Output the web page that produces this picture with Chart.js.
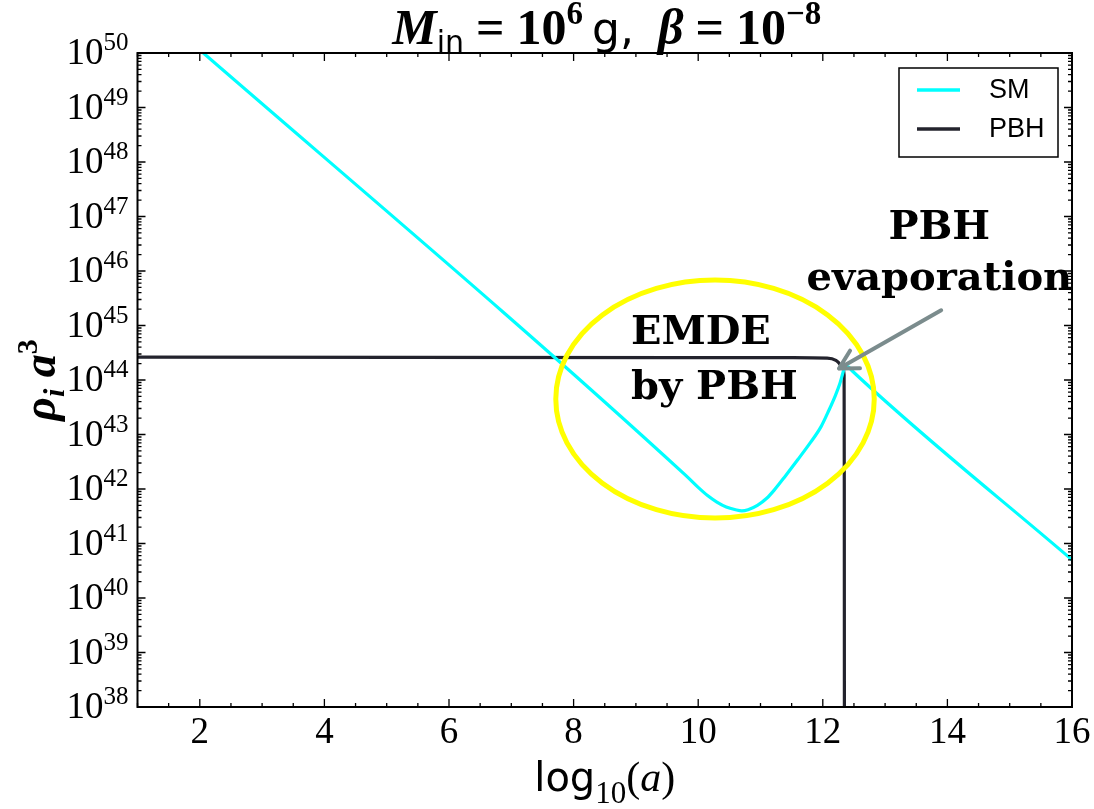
<!DOCTYPE html>
<html><head><meta charset="utf-8">
<script src="https://cdn.jsdelivr.net/npm/chart.js@4.4.1/dist/chart.umd.min.js"></script>
<style>html,body{margin:0;padding:0;background:#fff}canvas{display:block}</style>
</head><body>
<canvas id="c" width="1094" height="809"></canvas>
<script>
// ---- data (x = log10(a), y given as log10 of rho_i a^3) ----
const smX      = [1, 9.8, 10.0, 10.15, 10.3, 10.45, 10.6, 10.7, 10.8, 10.95, 11.1, 11.22, 11.4, 11.6, 11.8, 11.97, 12.1, 12.2, 12.27, 12.31, 12.34, 12.37, 12.41, 12.47, 16];
const smLogY   = [51.05, 42.25, 42.03, 41.88, 41.76, 41.67, 41.62, 41.60, 41.62, 41.70, 41.83, 41.98, 42.24, 42.54, 42.85, 43.14, 43.45, 43.71, 43.92, 44.08, 44.20, 44.25, 44.24, 44.17, 40.70];
const pbhX     = [1, 11.5, 12.07, 12.21, 12.26, 12.305, 12.342, 12.345, 12.348];
const pbhLogY  = [44.42, 44.41, 44.40, 44.36, 44.31, 44.25, 44.09, 42.0, 34];
const seriesLabels = ['SM', 'PBH'];
const xTickVals = [2, 4, 6, 8, 10, 12, 14, 16];
const yTickExps = [38, 39, 40, 41, 42, 43, 44, 45, 46, 47, 48, 49, 50];

// ---- annotation anchors (data coordinates) ----
const ellipseAnno = {cx: 10.27, cyExp: 43.65, rx: 2.556, ryDec: 2.183};
const arrowAnno = {tail: [13.90, 45.28], tip: [12.26, 44.21]};
const textAnno = [
  {lines: ['EMDE', 'by PBH'], x: 8.92, yExp: [44.66, 43.65], align: 'left'},
  {lines: ['PBH', 'evaporation'], x: 13.87, yExp: [46.58, 45.65], align: 'center'}
];

const SERIF = '"Liberation Serif", "DejaVu Serif", serif';
const SANS = '"DejaVu Sans", sans-serif';

function runsWidth(ctx, runs) { let w = 0; for (const r of runs) { ctx.font = r.font; w += ctx.measureText(r.t).width + (r.gap || 0); } return w; }
function drawRuns(ctx, runs, x, y, align) {
  const w = runsWidth(ctx, runs);
  let cx = align === 'center' ? x - w / 2 : (align === 'right' ? x - w : x);
  ctx.textAlign = 'left'; ctx.textBaseline = 'alphabetic';
  for (const r of runs) { ctx.font = r.font; ctx.fillText(r.t, cx, y + (r.dy || 0)); cx += ctx.measureText(r.t).width + (r.gap || 0); }
}

const deco = {
  id: 'deco',
  beforeDraw(chart) {
    const ctx = chart.ctx;
    ctx.save(); ctx.fillStyle = '#fff'; ctx.fillRect(0, 0, chart.width, chart.height); ctx.restore();
  },
  afterDatasetsDraw(chart) {
    const ctx = chart.ctx, a = chart.chartArea, xs = chart.scales.x, ys = chart.scales.y;
    ctx.save();
    ctx.fillStyle = '#000'; ctx.strokeStyle = '#000';
    // frame
    ctx.lineWidth = 2;
    ctx.strokeRect(a.left, a.top, a.right - a.left, a.bottom - a.top);
    // ticks
    ctx.lineWidth = 1.3;
    ctx.beginPath();
    for (let v = 1; v <= 16.001; v += 0.5) {
      const px = xs.getPixelForValue(v);
      const len = (Math.abs(v % 2) < 1e-6) ? 8 : 4;
      ctx.moveTo(px, a.bottom); ctx.lineTo(px, a.bottom - len);
      ctx.moveTo(px, a.top); ctx.lineTo(px, a.top + len);
    }
    for (let e = 38; e <= 50; e++) {
      for (let k = 1; k <= 9; k++) {
        if (e === 50 && k > 1) break;
        const py = ys.getPixelForValue(k * Math.pow(10, e));
        const len = k === 1 ? 8 : 4;
        ctx.moveTo(a.left, py); ctx.lineTo(a.left + len, py);
        ctx.moveTo(a.right, py); ctx.lineTo(a.right - len, py);
      }
    }
    ctx.stroke();
    // tick labels
    for (const v of xTickVals) {
      drawRuns(ctx, [{t: String(v), font: '37px ' + SERIF}], xs.getPixelForValue(v), a.bottom + 36, 'center');
    }
    for (const e of yTickExps) {
      const py = ys.getPixelForValue(Math.pow(10, e));
      drawRuns(ctx, [{t: '10', font: '37px ' + SERIF}, {t: String(e), font: '25px ' + SERIF, dy: -14}], a.left - 9, py + 11, 'right');
    }
    const midX = (a.left + a.right) / 2, midY = (a.top + a.bottom) / 2;
    // x label
    drawRuns(ctx, [
      {t: 'log', font: '40px ' + SANS},
      {t: '10', font: '31px ' + SERIF, dy: 12},
      {t: '(', font: '42px ' + SERIF},
      {t: 'a', font: 'italic 42px ' + SERIF},
      {t: ')', font: '42px ' + SERIF}
    ], midX, a.bottom + 84, 'center');
    // y label
    ctx.save();
    ctx.translate(55, midY); ctx.rotate(-Math.PI / 2);
    drawRuns(ctx, [
      {t: 'ρ', font: 'italic bold 46px ' + SERIF},
      {t: 'i', font: 'italic bold 30px ' + SERIF, dy: 9},
      {t: ' a', font: 'italic bold 46px ' + SERIF},
      {t: '3', font: 'bold 30px ' + SERIF, dy: -18}
    ], 0, 0, 'center');
    ctx.restore();
    // title
    drawRuns(ctx, [
      {t: 'M', font: 'italic bold 50px ' + SERIF},
      {t: 'in', font: '30px ' + SANS, dy: 8, gap: 12},
      {t: '=', font: 'bold 50px ' + SERIF, gap: 12},
      {t: '10', font: 'bold 50px ' + SERIF},
      {t: '6', font: 'bold 33px ' + SERIF, dy: -20, gap: 9},
      {t: 'g,', font: '44px ' + SANS, gap: 24},
      {t: 'β', font: 'italic bold 50px ' + SERIF, gap: 12},
      {t: '=', font: 'bold 50px ' + SERIF, gap: 12},
      {t: '10', font: 'bold 50px ' + SERIF},
      {t: '−8', font: 'bold 33px ' + SERIF, dy: -20}
    ], midX + 2, 44, 'center');
    // legend
    const bx = a.right - 173, by = a.top + 15, bw = 159, bh = 89;
    ctx.fillStyle = '#fff'; ctx.fillRect(bx, by, bw, bh);
    ctx.lineWidth = 1.5; ctx.strokeStyle = '#000'; ctx.strokeRect(bx, by, bw, bh);
    chart.data.datasets.forEach((ds, i) => {
      const ly = by + 22 + i * 39;
      ctx.strokeStyle = ds.borderColor; ctx.lineWidth = 3.5;
      ctx.beginPath(); ctx.moveTo(bx + 18, ly); ctx.lineTo(bx + 61, ly); ctx.stroke();
      ctx.fillStyle = '#000';
      ctx.font = '27px "Liberation Sans", Arial, sans-serif'; ctx.textAlign = 'left'; ctx.textBaseline = 'middle';
      ctx.fillText(ds.label, bx + 90, ly + 1);
    });
    // ellipse
    const ecx = xs.getPixelForValue(ellipseAnno.cx), ecy = ys.getPixelForValue(Math.pow(10, ellipseAnno.cyExp));
    const erx = xs.getPixelForValue(ellipseAnno.cx + ellipseAnno.rx) - ecx;
    const ery = ecy - ys.getPixelForValue(Math.pow(10, ellipseAnno.cyExp + ellipseAnno.ryDec));
    ctx.strokeStyle = '#ffff00'; ctx.lineWidth = 5;
    ctx.beginPath(); ctx.ellipse(ecx, ecy, erx, ery, 0, 0, Math.PI * 2); ctx.stroke();
    // arrow
    const tx = xs.getPixelForValue(arrowAnno.tail[0]), ty = ys.getPixelForValue(Math.pow(10, arrowAnno.tail[1]));
    const hx = xs.getPixelForValue(arrowAnno.tip[0]), hy = ys.getPixelForValue(Math.pow(10, arrowAnno.tip[1]));
    const ang = Math.atan2(ty - hy, tx - hx);
    ctx.strokeStyle = '#7b8c8d'; ctx.lineWidth = 4; ctx.lineCap = 'round';
    ctx.beginPath(); ctx.moveTo(tx, ty); ctx.lineTo(hx, hy);
    for (const s of [-1, 1]) {
      const aa = ang + s * 0.5;
      ctx.moveTo(hx, hy); ctx.lineTo(hx + 21 * Math.cos(aa), hy + 21 * Math.sin(aa));
    }
    ctx.stroke();
    // texts
    ctx.fillStyle = '#000';
    for (const t of textAnno) {
      const px = xs.getPixelForValue(t.x);
      t.lines.forEach((ln, j) => {
        const py = ys.getPixelForValue(Math.pow(10, t.yExp[j]));
        drawRuns(ctx, [{t: ln, font: 'bold 40px "DejaVu Serif", serif'}], px, py, t.align);
      });
    }
    ctx.restore();
  }
};

const toPts = (xa, la) => xa.map((x, i) => ({x: x, y: Math.pow(10, la[i])}));

new Chart(document.getElementById('c'), {
  type: 'line',
  data: {
    datasets: [
      {label: seriesLabels[0], data: toPts(smX, smLogY), borderColor: '#00ffff', borderWidth: 3.2, pointRadius: 0, cubicInterpolationMode: 'monotone', fill: false, borderJoinStyle: 'round'},
      {label: seriesLabels[1], data: toPts(pbhX, pbhLogY), borderColor: '#23232d', borderWidth: 3.2, pointRadius: 0, cubicInterpolationMode: 'monotone', fill: false, borderJoinStyle: 'round'}
    ]
  },
  options: {
    responsive: false, devicePixelRatio: 1, animation: false, events: [],
    layout: {padding: {left: 137.5, right: 22, top: 53, bottom: 102}},
    plugins: {legend: {display: false}, title: {display: false}, tooltip: {enabled: false}},
    scales: {
      x: {type: 'linear', min: 1, max: 16, display: false},
      y: {type: 'logarithmic', min: 1e38, max: 1e50, display: false}
    }
  },
  plugins: [deco]
});
</script>
</body></html>
